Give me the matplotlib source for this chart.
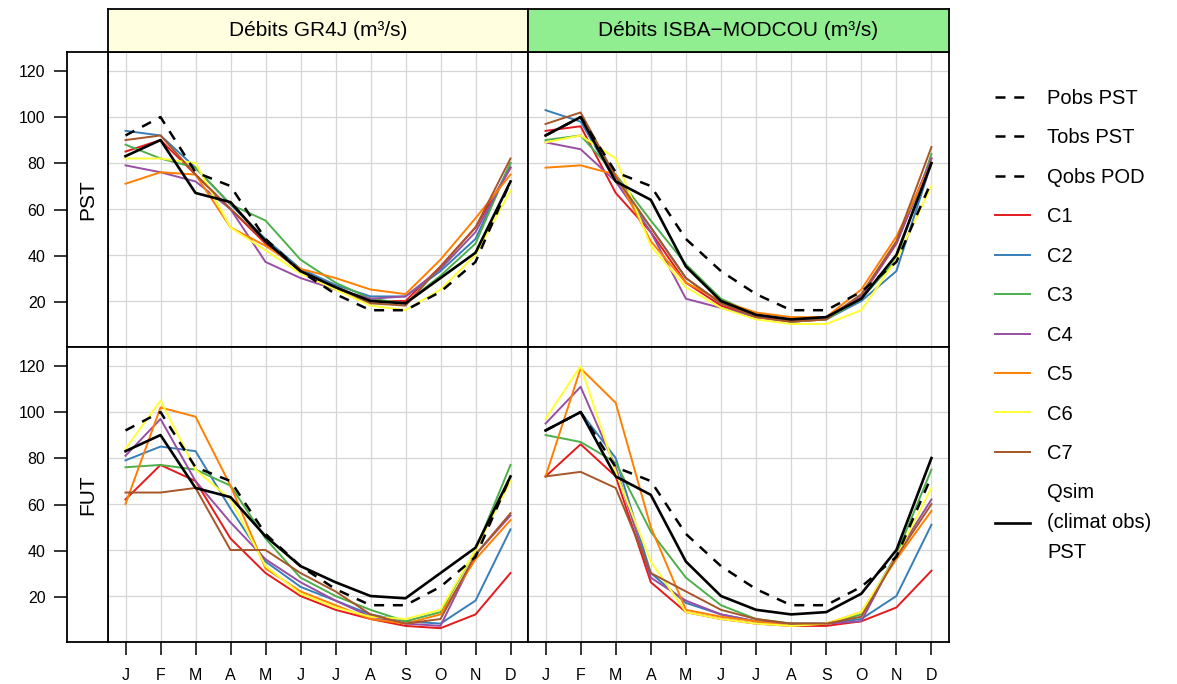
import numpy as np
import matplotlib.pyplot as plt
from matplotlib.lines import Line2D

plt.rcParams['font.family'] = ['Liberation Sans', 'DejaVu Sans']

'''
Débits mensuels moyens GR4J / ISBA-MODCOU
periode PST (haut) et FUT (bas), 7 chaines climatiques C1..C7
'''

months = ['J', 'F', 'M', 'A', 'M', 'J', 'J', 'A', 'S', 'O', 'N', 'D']
chains = ['C1', 'C2', 'C3', 'C4', 'C5', 'C6', 'C7']
chain_colors = ['#E41A1C', '#377EB8', '#4DAF4A', '#984EA3', '#FF7F00', '#FFFF33', '#A65628']

# observed flow (dashed) and simulated flow with observed climate (black)
q_obs = [92, 100, 76, 70, 47, 33, 23, 16, 16, 24, 37, 72]
qsim_gr4j = [83, 90, 67, 63, 46, 33, 26, 20, 19, 30, 41, 72]
qsim_isba = [92, 100, 72, 64, 35, 20, 14, 12, 13, 21, 40, 80]

# one row per chain C1..C7
gr4j_pst = [
    [85, 90, 75, 60, 45, 33, 26, 20, 20, 35, 52, 78],
    [94, 92, 78, 62, 47, 34, 27, 22, 22, 33, 47, 80],
    [88, 82, 78, 62, 55, 38, 28, 21, 19, 31, 45, 80],
    [79, 76, 72, 60, 37, 30, 25, 21, 22, 34, 50, 78],
    [71, 76, 75, 52, 44, 34, 30, 25, 23, 38, 56, 75],
    [82, 82, 80, 52, 42, 32, 25, 18, 16, 25, 40, 68],
    [90, 92, 75, 60, 46, 33, 26, 19, 18, 35, 52, 82],
]
isba_pst = [
    [94, 96, 67, 50, 28, 18, 13, 11, 12, 22, 45, 82],
    [103, 98, 72, 52, 30, 19, 14, 12, 12, 20, 33, 80],
    [90, 92, 75, 55, 36, 21, 14, 11, 12, 21, 38, 84],
    [89, 86, 72, 50, 21, 17, 13, 12, 13, 22, 45, 82],
    [78, 79, 75, 46, 28, 20, 15, 13, 13, 25, 48, 80],
    [89, 92, 82, 44, 26, 17, 12, 10, 10, 16, 38, 70],
    [97, 102, 74, 52, 30, 19, 13, 11, 12, 23, 46, 87],
]
gr4j_fut = [
    [62, 77, 70, 45, 30, 20, 14, 10, 7, 6, 12, 30],
    [79, 85, 83, 58, 35, 24, 18, 12, 9, 8, 18, 49],
    [76, 77, 75, 68, 45, 28, 20, 14, 9, 13, 40, 77],
    [81, 97, 70, 52, 36, 26, 18, 11, 8, 7, 38, 55],
    [60, 102, 98, 68, 32, 22, 16, 10, 8, 12, 36, 53],
    [84, 105, 75, 62, 33, 21, 15, 11, 10, 14, 40, 70],
    [65, 65, 67, 40, 40, 30, 22, 12, 8, 10, 38, 56],
]
isba_fut = [
    [72, 86, 72, 26, 13, 10, 8, 7, 7, 9, 15, 31],
    [92, 100, 80, 30, 17, 12, 9, 8, 8, 10, 20, 51],
    [90, 87, 78, 48, 28, 16, 10, 8, 8, 12, 38, 75],
    [95, 111, 76, 28, 18, 12, 9, 8, 8, 9, 38, 62],
    [72, 119, 104, 50, 14, 11, 9, 7, 8, 13, 36, 57],
    [97, 120, 74, 35, 13, 10, 8, 7, 8, 13, 37, 67],
    [72, 74, 67, 30, 22, 14, 10, 8, 8, 11, 37, 60],
]

W, H = 1177, 684
OBS_STYLE = dict(color='black', lw=1.8, ls=(0, (4, 3.5)))


def box(x0, y0, x1, y1):
    # pixel box (top-left origin) -> figure fraction
    return [x0 / W, 1 - y1 / H, (x1 - x0) / W, (y1 - y0) / H]


def draw_panel(ax, series, qsim, bottom_row):
    x = np.arange(1, 13)
    ax.set_xlim(0.5, 12.5)
    ax.set_ylim(0.5, 128.3)
    ax.set_xticks(x)
    ax.set_yticks(np.arange(0, 121, 20))
    ax.grid(True, color='#d6d6d6', lw=0.9)
    ax.set_axisbelow(True)
    for vals, col in zip(series, chain_colors):
        ax.plot(x, vals, color=col, lw=1.4)
    ax.plot(x, q_obs, **OBS_STYLE)
    ax.plot(x, qsim, color='black', lw=1.9)
    ax.tick_params(left=False, labelleft=False, right=False, top=False)
    if bottom_row:
        ax.set_xticklabels(months, fontsize=11.5)
        ax.tick_params(axis='x', direction='out', length=9.5, width=1.1, pad=9)
    else:
        ax.tick_params(axis='x', bottom=False, labelbottom=False)
    for s in ax.spines.values():
        s.set_linewidth(1.3)


def make_figure():
    fig = plt.figure(figsize=(W / 100, H / 100), dpi=100)

    cols = [(108, 528), (528, 949)]
    rows = [(52, 347), (347, 642)]
    data = [[gr4j_pst, isba_pst], [gr4j_fut, isba_fut]]
    qsims = [qsim_gr4j, qsim_isba]

    for i, (y0, y1) in enumerate(rows):
        for j, (x0, x1) in enumerate(cols):
            ax = fig.add_axes(box(x0, y0, x1, y1))
            draw_panel(ax, data[i][j], qsims[j], bottom_row=(i == 1))

        # row strip with the y axis on its left side
        sax = fig.add_axes(box(67, y0, 108, y1))
        sax.set_xlim(0, 1)
        sax.set_ylim(0.5, 128.3)
        sax.set_xticks([])
        sax.set_yticks(np.arange(20, 121, 20))
        sax.tick_params(axis='y', direction='out', length=9.5, width=1.1,
                        pad=6, labelsize=11.5)
        sax.text(0.5, 0.5, ['PST', 'FUT'][i], rotation=90, fontsize=15,
                 ha='center', va='center', transform=sax.transAxes)
        for s in sax.spines.values():
            s.set_linewidth(1.3)

    # column headers
    titles = ['Débits GR4J (m³/s)', 'Débits ISBA\u2212MODCOU (m³/s)']
    strip_colors = ['#FFFFE0', '#90EE90']
    for (x0, x1), title, col in zip(cols, titles, strip_colors):
        hax = fig.add_axes(box(x0, 9, x1, 52))
        hax.set_facecolor(col)
        hax.set_xticks([])
        hax.set_yticks([])
        hax.text(0.5, 0.5, title, fontsize=15, ha='center', va='center',
                 transform=hax.transAxes)
        for s in hax.spines.values():
            s.set_linewidth(1.3)

    handles = [Line2D([], [], **OBS_STYLE) for _ in range(3)]
    handles += [Line2D([], [], color=c, lw=1.4) for c in chain_colors]
    handles.append(Line2D([], [], color='black', lw=1.9))
    labels = ['Pobs PST', 'Tobs PST', 'Qobs POD'] + chains + ['Qsim\n(climat obs)\nPST']
    leg = fig.legend(handles, labels, loc='upper left',
                     bbox_to_anchor=(995 / W, 1 - 89 / H), frameon=False,
                     fontsize=14.5, handlelength=1.75, handletextpad=0.85,
                     labelspacing=1.015, borderpad=0, borderaxespad=0)
    for t in leg.get_texts():
        t.set_linespacing(1.72)

    fig.savefig('out.png', dpi=100)


if __name__ == '__main__':
    make_figure()
